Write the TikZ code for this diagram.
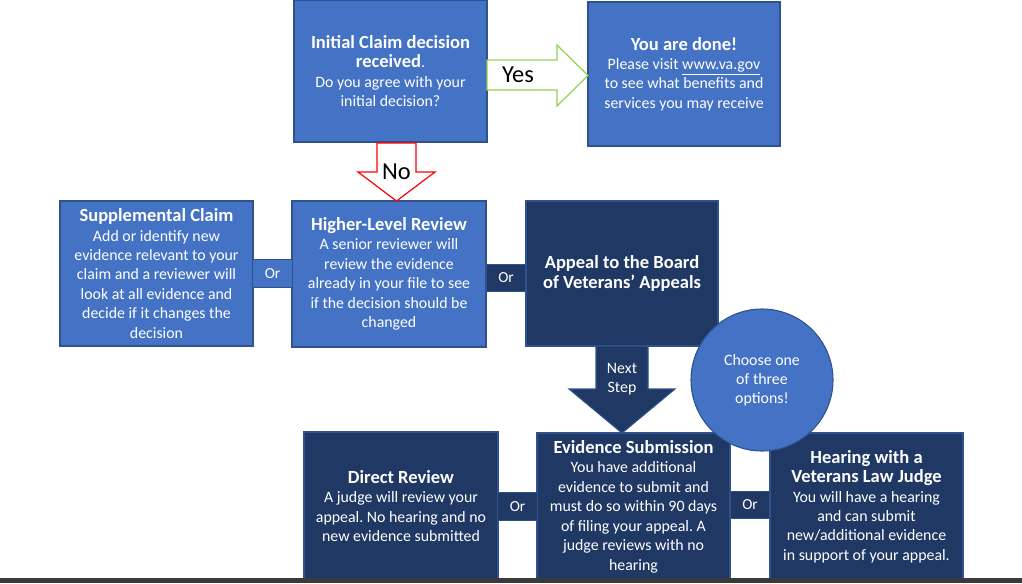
\documentclass[tikz,border=0pt]{standalone}
\usepackage{fontspec}
\setmainfont{Carlito}
\definecolor{medblue}{HTML}{4472C4}
\definecolor{edgeblue}{HTML}{2F528F}
\definecolor{navy}{HTML}{203864}
\definecolor{yesgreen}{HTML}{92D050}
\definecolor{barg}{HTML}{3A3A3A}
\newcommand{\ttl}[1]{{\fontsize{13.9}{17}\selectfont\bfseries #1}}
\tikzset{
  x=0.75pt, y=-0.75pt,
  box/.style={draw=edgeblue, line width=0.8pt, inner sep=0pt, text=white, align=center,
    font=\fontsize{11.9}{14.6}\selectfont\frenchspacing},
  lightbox/.style={box, fill=medblue},
  darkbox/.style={box, fill=navy},
  orbox/.style={draw=edgeblue, line width=0.8pt, inner sep=0pt, text=white,
    font=\fontsize{11.5}{12}\selectfont, minimum width=29.5pt, minimum height=20.5pt},
  bigarrowlabel/.style={font=\fontsize{18.3}{20}\selectfont, text=black, inner sep=0pt},
}
\begin{document}
\begin{tikzpicture}
\useasboundingbox (0,0) rectangle (1022,583);
% top row
\node[lightbox, minimum width=144.75pt, minimum height=106.5pt] (init) at (390.5,71)
  {\ttl{Initial Claim decision}\\\ttl{received}.\\Do you agree with your\\initial decision?};
\node[lightbox, minimum width=144pt, minimum height=108pt] (done) at (684,74)
  {\ttl{You are done!}\\Please visit \underline{www.va.gov}\\to see what benefits and\\services you may receive};
% middle row
\node[lightbox, minimum width=144.75pt, minimum height=108.75pt] (supp) at (156.5,273.5)
  {\ttl{Supplemental Claim}\\Add or identify new\\evidence relevant to your\\claim and a reviewer will\\look at all evidence and\\decide if it changes the\\decision};
\node[lightbox, minimum width=145.5pt, minimum height=109.5pt] (hlr) at (389,274)
  {\ttl{Higher-Level Review}\\A senior reviewer will\\review the evidence\\already in your file to see\\if the decision should be\\changed};
\node[darkbox, minimum width=144pt, minimum height=108.75pt] (appeal) at (622,273.5)
  {\ttl{Appeal to the Board}\\\ttl{of Veterans' Appeals}};
\node[orbox, fill=medblue] (or1) at (272.5,273.5) {Or};
\node[orbox, fill=navy] (or2) at (506,278) {Or};
% bottom row
\node[darkbox, minimum width=145.5pt, minimum height=111pt] (direct) at (401,506)
  {\ttl{Direct Review}\\A judge will review your\\appeal. No hearing and no\\new evidence submitted};
\node[darkbox, minimum width=144.75pt, minimum height=110.25pt] (evid) at (633.5,506.5)
  {\ttl{Evidence Submission}\\You have additional\\evidence to submit and\\must do so within 90 days\\of filing your appeal. A\\judge reviews with no\\hearing};
\node[darkbox, minimum width=144.75pt, minimum height=110.25pt] (hear) at (866.5,506.5)
  {\ttl{Hearing with a}\\\ttl{Veterans Law Judge}\\You will have a hearing\\and can submit\\new/additional evidence\\in support of your appeal.};
\node[orbox, fill=navy] (or3) at (517.5,506.5) {Or};
\node[orbox, fill=navy] (or4) at (750,505) {Or};
% block arrows
\draw[yesgreen, line width=0.9pt, fill=white]
  (487,60) -- (557,60) -- (557,45) -- (588,75.5) -- (557,106) -- (557,90) -- (487,90) -- cycle;
\node[bigarrowlabel] (yes) at (518,75) {Yes};
\draw[red, line width=0.9pt, fill=white]
  (377,143) -- (416,143) -- (416,172) -- (435,172) -- (396.5,201) -- (358,172) -- (377,172) -- cycle;
\node[bigarrowlabel] (no) at (396.5,172) {No};
\draw[edgeblue, line width=0.8pt, fill=navy]
  (596,346) -- (648,346) -- (648,389) -- (675,389) -- (622,433) -- (569,389) -- (596,389) -- cycle;
\node[text=white, align=center, inner sep=0pt, font=\fontsize{11.9}{14.6}\selectfont] (next) at (622,379) {Next\\Step};
% circle
\node[circle, draw=edgeblue, line width=0.8pt, fill=medblue, minimum size=106.5pt, inner sep=0pt,
  text=white, align=center, font=\fontsize{11.9}{14.3}\selectfont] (choose) at (762,380)
  {Choose one\\of three\\options!};
% bottom bar
\fill[barg] (0,578) rectangle (1022,583);
\end{tikzpicture}
\end{document}
